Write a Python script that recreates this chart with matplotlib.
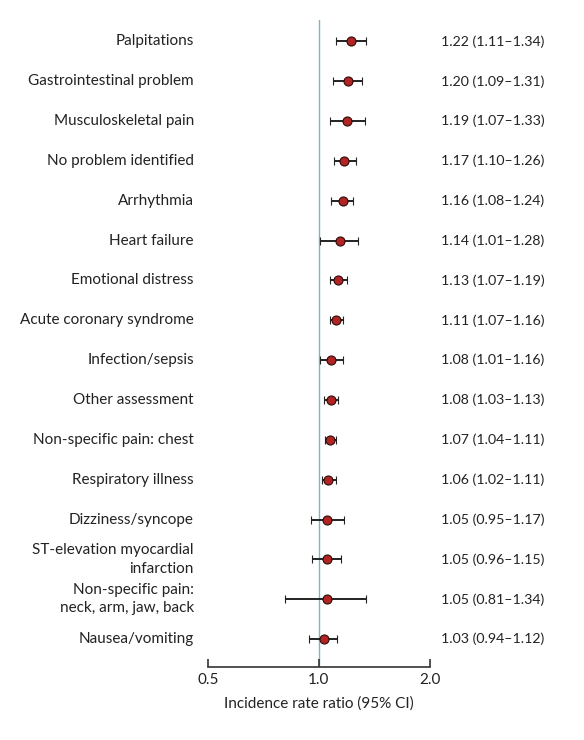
import numpy as np
import matplotlib.pyplot as plt
from matplotlib.ticker import FixedLocator, NullLocator

plt.rcParams['font.family'] = ['Lato', 'DejaVu Sans']

# data, top row first
labels = ['Palpitations', 'Gastrointestinal problem', 'Musculoskeletal pain',
          'No problem identified', 'Arrhythmia', 'Heart failure',
          'Emotional distress', 'Acute coronary syndrome', 'Infection/sepsis',
          'Other assessment', 'Non-specific pain: chest', 'Respiratory illness',
          'Dizziness/syncope', 'ST-elevation myocardial\ninfarction',
          'Non-specific pain:\nneck, arm, jaw, back', 'Nausea/vomiting']
irr = [1.22, 1.20, 1.19, 1.17, 1.16, 1.14, 1.13, 1.11, 1.08, 1.08, 1.07, 1.06,
       1.05, 1.05, 1.05, 1.03]
ci_low = [1.11, 1.09, 1.07, 1.10, 1.08, 1.01, 1.07, 1.07, 1.01, 1.03, 1.04, 1.02,
          0.95, 0.96, 0.81, 0.94]
ci_high = [1.34, 1.31, 1.33, 1.26, 1.24, 1.28, 1.19, 1.16, 1.16, 1.13, 1.11, 1.11,
           1.17, 1.15, 1.34, 1.12]
xticks = [0.5, 1.0, 2.0]

irr = np.array(irr)
lo = np.array(ci_low)
hi = np.array(ci_high)
ypos = np.arange(len(labels))

fig = plt.figure(figsize=(5.84, 7.4), dpi=100)
ax = fig.add_axes([0.356, 0.0986, 0.380, 0.874])

ax.axvline(1.0, color='#7db4cc', lw=1.0, zorder=1)
ax.errorbar(irr, ypos, xerr=[irr - lo, hi - irr], fmt='o', color='#222222',
            ecolor='#222222', elinewidth=1.4, capsize=3, capthick=1.4,
            markersize=6.5, markerfacecolor='#b22424', markeredgecolor='#2a0a0a',
            markeredgewidth=0.8, zorder=3)

ax.set_xscale('log')
ax.set_xlim(0.5, 2.0)
ax.set_ylim(15.7, -0.53)
ax.xaxis.set_major_locator(FixedLocator(xticks))
ax.xaxis.set_minor_locator(NullLocator())
ax.set_xticklabels(['%.1f' % t for t in xticks], fontsize=11, color='#222222')
ax.tick_params(axis='x', direction='in', length=6, width=1.2, colors='#333333',
               pad=4, labelcolor='#222222')
ax.set_yticks([])
for s in ['top', 'right', 'left']:
    ax.spines[s].set_visible(False)
ax.spines['bottom'].set_linewidth(1.2)
ax.spines['bottom'].set_color('#333333')
ax.set_xlabel('Incidence rate ratio (95% CI)', fontsize=11, color='#222222',
              labelpad=7)

for i, lab in enumerate(labels):
    ax.text(-0.063, i, lab, transform=ax.get_yaxis_transform(), ha='right',
            va='center', fontsize=11, color='#222222', linespacing=1.4)
    txt = '%.2f (%.2f\u2013%.2f)' % (irr[i], lo[i], hi[i])
    ax.text(1.05, i, txt, transform=ax.get_yaxis_transform(), ha='left',
            va='center', fontsize=10.2, color='#222222')

fig.savefig('out.png', dpi=100)
